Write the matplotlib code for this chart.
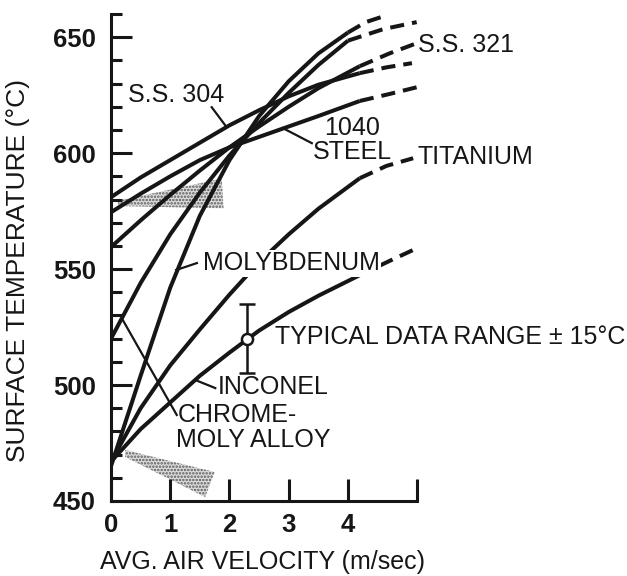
import matplotlib
matplotlib.use("Agg")
import matplotlib.pyplot as plt
from matplotlib.patches import Polygon
from matplotlib.ticker import MultipleLocator

plt.rcParams['font.family'] = ['Liberation Sans', 'DejaVu Sans']
plt.rcParams['hatch.linewidth'] = 1.2

# air velocity (m/sec) at which each measured curve is read
VEL = [0, 0.5, 1, 1.5, 2, 2.5, 3, 3.5]

# surface temperature (deg C), measured range
SS304_T = [581, 589.5, 597, 604.5, 612, 618.5, 624.5, 629.5]
SS321_T = [559.5, 571, 582, 592.5, 602.5, 611.5, 620, 628]
STEEL1040_T = [574.5, 582.5, 590, 597, 602.5, 607, 611.5, 616]
TITANIUM_T = [467, 490, 508.5, 524, 539, 553, 565, 576]
MOLY_T = [465, 504, 542, 573, 597, 616, 631, 643]
INCONEL_T = [467, 481, 492.5, 504, 514, 523.5, 531.5, 538.5]
CRMO_T = [520, 544, 565, 583, 599, 613, 626, 638]

# extrapolated range (dashed); first point closes the solid curve
SS304_EXT_V = [4.2, 4.65, 5.08]
SS304_EXT_T = [634.5, 637, 638.8]
SS321_EXT_V = [4.2, 4.7, 5.16]
SS321_EXT_T = [637.5, 643, 647.4]
STEEL1040_EXT_V = [4.2, 4.7, 5.16]
STEEL1040_EXT_T = [622.5, 625.5, 628.4]
TITANIUM_EXT_V = [4.2, 4.65, 5.1]
TITANIUM_EXT_T = [589.2, 594.5, 597.8]
MOLY_EXT_V = [4.0, 4.3, 4.66]
MOLY_EXT_T = [652, 656.5, 659.5]
INCONEL_EXT_V = [4.2, 4.7, 5.13]
INCONEL_EXT_T = [547.4, 553.5, 558.6]
CRMO_EXT_V = [4.0, 4.6, 5.16]
CRMO_EXT_T = [648.5, 653.5, 656.5]

# typical scatter of a single reading
DATA_V = 2.3
DATA_T = 520
DATA_ERR = 15

# stippled bands
BAND_HI_V = [0.12, 1.87, 1.9, 0.12]
BAND_HI_T = [579.5, 589, 576.2, 577.2]
BAND_LO_V = [0.24, 1.75, 1.59, 0.24]
BAND_LO_T = [472, 462.5, 451.7, 469]

X_END = 5.16
X_TICKS = [0, 1, 2, 3, 4]
Y_TICKS = [450, 500, 550, 600, 650]

INK = '#161616'

fig = plt.figure(figsize=(6.27, 5.76), dpi=100)
ax = fig.add_axes([111 / 627, 75 / 576, 516 / 627, 487 / 576])
ax.set_xlim(0, 8.71)
ax.set_ylim(450, 660)

for side in ('top', 'right'):
    ax.spines[side].set_visible(False)
for side in ('left', 'bottom'):
    ax.spines[side].set_linewidth(2.2)
    ax.spines[side].set_color(INK)
ax.spines['bottom'].set_bounds(0, X_END)
ax.spines['left'].set_bounds(450, 660)

ax.set_xticks(X_TICKS + [X_END])
ax.set_xticklabels([str(v) for v in X_TICKS] + [''])
ax.set_yticks(Y_TICKS)
ax.set_yticklabels([str(v) for v in Y_TICKS])
ax.yaxis.set_minor_locator(MultipleLocator(10))
ax.tick_params(axis='y', which='major', direction='in', length=15, width=2.2,
               pad=11, labelsize=18.5, color=INK, labelcolor=INK)
ax.tick_params(axis='y', which='minor', direction='in', length=8, width=2.2,
               color=INK)
ax.tick_params(axis='x', which='major', direction='in', length=16, width=2.2,
               pad=9, labelsize=18.5, color=INK, labelcolor=INK)
for lbl in ax.get_xticklabels() + ax.get_yticklabels():
    lbl.set_fontweight('bold')

LW = 2.9
DASH = (0, (3.5, 2.0))


def draw(temps, ext_v, ext_t):
    ax.plot(VEL + ext_v[:1], temps + ext_t[:1], color=INK, lw=LW,
            solid_capstyle='butt', solid_joinstyle='round', zorder=3)
    ax.plot(ext_v, ext_t, color=INK, lw=LW, linestyle=DASH,
            dash_capstyle='butt', zorder=3)


draw(SS304_T, SS304_EXT_V, SS304_EXT_T)
draw(SS321_T, SS321_EXT_V, SS321_EXT_T)
draw(STEEL1040_T, STEEL1040_EXT_V, STEEL1040_EXT_T)
draw(TITANIUM_T, TITANIUM_EXT_V, TITANIUM_EXT_T)
draw(MOLY_T, MOLY_EXT_V, MOLY_EXT_T)
draw(INCONEL_T, INCONEL_EXT_V, INCONEL_EXT_T)
draw(CRMO_T, CRMO_EXT_V, CRMO_EXT_T)

for bv, bt in ((BAND_HI_V, BAND_HI_T), (BAND_LO_V, BAND_LO_T)):
    ax.add_patch(Polygon(list(zip(bv, bt)), closed=True, facecolor='#dcdcdc',
                         edgecolor='#5a5a5a', hatch='.....', lw=0, zorder=1))

ax.errorbar([DATA_V], [DATA_T], yerr=[DATA_ERR], fmt='o', ms=8, mfc='white',
            mec=INK, mew=1.8, ecolor=INK, elinewidth=1.8, capsize=6,
            capthick=1.8, zorder=5)

TXT = dict(fontsize=18, color=INK, va='center', ha='left', zorder=6)
LEAD = dict(color=INK, lw=1.6, zorder=4)

ax.text(0.29, 625, 'S.S. 304', **TXT)
ax.plot([1.70, 1.94], [619.8, 611.6], **LEAD)

ax.text(5.18, 646.6, 'S.S. 321', **TXT)

ax.text(4.07, 610.8, '1040', **dict(TXT, ha='center'))
ax.text(4.07, 600.6, 'STEEL', **dict(TXT, ha='center'))
ax.plot([2.90, 3.39], [610.8, 604.3], **LEAD)

ax.text(5.18, 598.3, 'TITANIUM', **TXT)

ax.text(1.55, 552.6, 'MOLYBDENUM',
        bbox=dict(facecolor='white', edgecolor='none', pad=1.0), **TXT)
ax.plot([1.10, 1.45], [549.6, 552.6], **LEAD)

ax.text(2.77, 520.7, 'TYPICAL DATA RANGE \u00b1 15\u00b0C', **TXT)

ax.text(1.81, 499, 'INCONEL', **TXT)
ax.plot([1.42, 1.76], [502.2, 498.7], **LEAD)

ax.text(1.13, 487, 'CHROME-', **TXT)
ax.text(1.10, 476.3, 'MOLY ALLOY', **TXT)
ax.plot([0.20, 1.11], [528.0, 487.1], **LEAD)

fig.text(18 / 627, 0.531, 'SURFACE TEMPERATURE (\u00b0C)', rotation=90,
         fontsize=19, ha='center', va='center', color=INK)
fig.text(262 / 627, 14 / 576, 'AVG. AIR VELOCITY (m/sec)', fontsize=18,
         ha='center', va='center', color=INK)

fig.savefig('out.png', dpi=100)
